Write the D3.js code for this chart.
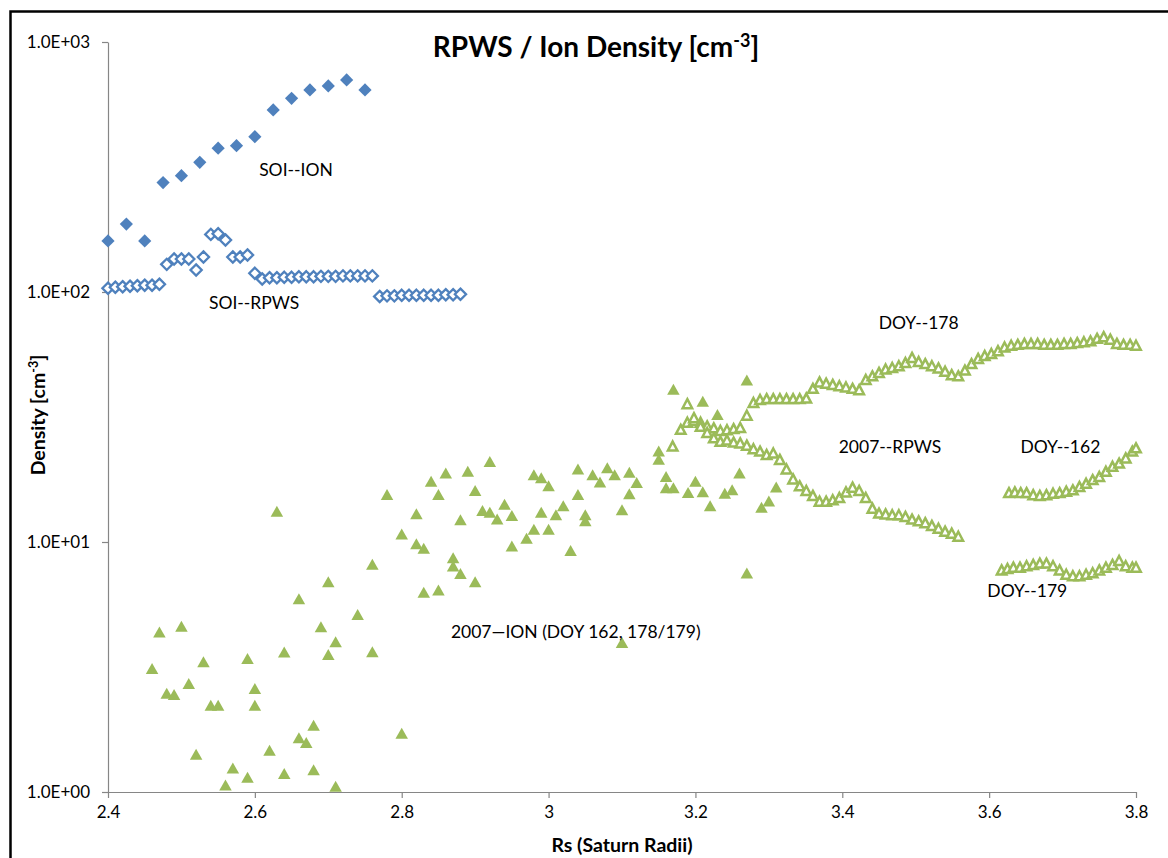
<!DOCTYPE html>
<html>
<head>
<meta charset="utf-8">
<title>RPWS / Ion Density</title>
<script src="https://cdn.jsdelivr.net/npm/d3@7"></script>
<style>
  html, body { margin: 0; padding: 0; background: #fff; }
  svg { display: block; font-family: Lato, "Open Sans", sans-serif; }
</style>
</head>
<body>
<svg id="chart" width="1168" height="858"></svg>
<script>
// Axis ticks
const xTicks = [2.4, 2.6, 2.8, 3.0, 3.2, 3.4, 3.6, 3.8];
const xTickLabels = ["2.4", "2.6", "2.8", "3", "3.2", "3.4", "3.6", "3.8"];
const yTicks = [1, 10, 100, 1000];
const yTickLabels = ["1.0E+00", "1.0E+01", "1.0E+02", "1.0E+03"];

// SOI ion density [Rs, cm^-3]
const soiIon = [
  [2.400,160],[2.425,187],[2.450,160],[2.475,274],[2.500,292],[2.525,330],
  [2.550,376],[2.575,385],[2.600,418],[2.625,535],[2.650,595],[2.675,643],
  [2.700,667],[2.725,705],[2.750,643]
];

// SOI RPWS density
const soiRpws = [
  [2.40,103.5],[2.41,104.5],[2.42,105],[2.43,105.5],[2.44,106],[2.45,106.5],
  [2.46,106.5],[2.47,107.4],[2.48,129],[2.49,135.5],[2.50,135.5],[2.51,135.5],
  [2.52,122.5],[2.53,138],[2.54,170],[2.55,171],[2.56,161.5],[2.57,138],
  [2.58,138],[2.59,140.6],[2.60,118.8],[2.61,112.7],
  [2.62,114],[2.63,114],[2.64,114.5],[2.65,114.5],[2.66,115],[2.67,115],
  [2.68,115],[2.69,115.5],[2.70,115.5],[2.71,115.5],[2.72,116],[2.73,116],
  [2.74,116],[2.75,116],[2.76,116],
  [2.77,96],[2.78,96.5],[2.79,96.5],[2.80,97],[2.81,97],[2.82,97],[2.83,97],
  [2.84,97],[2.85,97],[2.86,97.5],[2.87,97.5],[2.88,98]
];

// 2007 ion density (DOY 162, 178/179)
const ion2007 = [
  [2.46,3.10],[2.47,4.34],[2.48,2.47],[2.49,2.44],[2.50,4.58],[2.51,2.70],
  [2.52,1.41],[2.53,3.30],[2.54,2.21],[2.55,2.21],[2.56,1.06],[2.57,1.24],
  [2.59,3.40],[2.59,1.14],[2.60,2.58],[2.60,2.21],[2.62,1.46],[2.63,13.2],
  [2.64,3.61],[2.64,1.18],[2.66,5.9],[2.66,1.64],[2.67,1.57],[2.68,1.84],
  [2.68,1.22],[2.69,4.56],[2.70,6.9],[2.70,3.53],[2.71,3.97],[2.71,1.05],
  [2.74,5.1],[2.76,8.1],[2.76,3.62],[2.78,15.4],[2.80,10.7],[2.80,1.71],
  [2.82,12.9],[2.82,9.8],[2.83,9.4],[2.83,6.27],[2.84,17.4],[2.85,15.4],
  [2.85,6.39],[2.86,18.8],[2.87,8.6],[2.87,7.97],[2.88,12.2],[2.88,7.45],
  [2.89,19.1],[2.90,16.0],[2.90,6.9],[2.91,13.3],[2.92,20.9],[2.92,13.1],
  [2.93,12.3],[2.94,14.1],[2.95,12.7],[2.95,9.58],[2.97,10.3],[2.98,18.5],
  [2.98,11.2],[2.99,18.0],[2.99,13.1],[3.00,16.7],[3.00,11.2],[3.01,12.8],
  [3.02,13.9],[3.03,9.2],[3.04,19.5],[3.04,15.4],[3.05,12.8],[3.05,12.1],
  [3.06,18.5],[3.07,17.3],[3.08,19.7],[3.09,18.5],[3.10,13.4],[3.10,3.94],
  [3.11,18.9],[3.11,15.5],[3.12,17.2],[3.15,23.0],[3.15,21.3],[3.16,18.2],
  [3.16,16.4],[3.17,40.6],[3.17,16.4],[3.19,15.7],[3.20,17.4],[3.21,36.4],
  [3.21,15.8],[3.22,13.9],[3.23,32.2],[3.24,15.6],[3.25,16.1],[3.26,18.8],
  [3.27,44.2],[3.27,7.47],[3.29,13.7],[3.30,14.5],[3.31,16.5]
];

// 2007 RPWS density, DOY 178 pass
const rpws178 = [
  [3.169,24.1],[3.180,28.1],[3.189,30.0],[3.198,30.5],[3.207,30.0],[3.216,29.0],
  [3.225,28.5],[3.234,27.8],[3.243,28.0],[3.252,28.3],[3.261,28.6],[3.270,32.0],
  [3.279,36.0],[3.288,37.0],[3.297,37.3],[3.306,37.3],[3.315,37.3],[3.324,37.3],
  [3.333,37.3],[3.342,37.3],[3.351,37.5],[3.360,41.0],[3.369,43.5],[3.378,43.0],
  [3.387,42.5],[3.396,42.0],[3.405,41.5],[3.414,41.0],[3.423,40.5],[3.432,44.5],
  [3.441,46.0],[3.450,47.5],[3.459,49.0],[3.468,49.7],[3.477,50.5],[3.486,52.0],
  [3.495,54.5],[3.504,52.5],[3.513,51.5],[3.522,50.5],[3.531,49.5],[3.540,48.0],
  [3.549,46.5],[3.558,46.0],[3.567,48.5],[3.576,51.5],[3.585,54.0],[3.594,55.5],
  [3.603,56.5],[3.612,58.0],[3.621,60.0],[3.630,61.0],[3.639,61.5],[3.648,62.0],
  [3.657,62.0],[3.666,62.0],[3.675,61.5],[3.684,61.5],[3.693,61.5],[3.702,62.0],
  [3.711,62.0],[3.720,62.5],[3.729,63.0],[3.738,63.5],[3.747,65.0],[3.756,66.0],
  [3.765,64.5],[3.774,62.0],[3.783,61.5],[3.792,61.5],[3.800,61.0]
];

// 2007 RPWS density, DOY 179 inbound
const rpws179 = [
  [3.189,35.6],[3.198,31.3],[3.207,28.9],[3.216,27.3],[3.225,26.0],[3.234,25.2],
  [3.243,25.5],[3.252,25.0],[3.261,24.8],[3.270,24.3],[3.279,23.5],[3.288,23.0],
  [3.297,22.3],[3.306,22.6],[3.315,21.3],[3.324,19.5],[3.333,17.8],[3.342,16.7],
  [3.351,16.0],[3.360,15.3],[3.369,14.5],[3.378,14.5],[3.387,14.7],[3.396,15.0],
  [3.405,15.8],[3.414,16.5],[3.423,16.0],[3.432,15.0],[3.441,13.6],[3.450,13.0],
  [3.459,12.9],[3.468,12.8],[3.477,12.8],[3.486,12.6],[3.495,12.3],[3.504,12.1],
  [3.513,11.9],[3.522,11.6],[3.531,11.3],[3.540,11.0],[3.549,10.8],[3.558,10.5]
];

// 2007 RPWS density, DOY 162
const rpws162 = [
  [3.627,15.7],[3.635,15.8],[3.643,15.7],[3.651,15.7],[3.660,15.4],[3.669,15.3],
  [3.678,15.4],[3.687,15.6],[3.696,15.7],[3.705,15.9],[3.714,16.1],[3.723,16.6],
  [3.732,17.1],[3.741,17.7],[3.750,18.2],[3.759,19.1],[3.768,20.0],[3.777,20.6],
  [3.786,21.6],[3.795,23.0],[3.800,23.7]
];

// 2007 RPWS density, DOY 179 outer segment
const rpws179Outer = [
  [3.617,7.7],[3.625,7.8],[3.633,7.9],[3.642,7.9],[3.651,8.0],[3.660,8.1],
  [3.669,8.2],[3.678,8.2],[3.687,8.0],[3.696,7.7],[3.705,7.4],[3.714,7.3],
  [3.723,7.3],[3.732,7.4],[3.741,7.5],[3.750,7.7],[3.759,7.9],[3.768,8.1],
  [3.777,8.4],[3.786,8.0],[3.795,7.9],[3.800,7.9]
];

// Series annotations
const annotations = [
  { text: "SOI--ION", x: 2.656, y: 309 },
  { text: "SOI--RPWS", x: 2.599, y: 90.4 },
  { text: "DOY--178", x: 3.504, y: 75.2 },
  { text: "2007--RPWS", x: 3.465, y: 24.0 },
  { text: "DOY--162", x: 3.697, y: 24.0 },
  { text: "DOY--179", x: 3.652, y: 6.37 },
  { text: "2007\u2014ION (DOY 162, 178/179)", x: 3.037, y: 4.37 }
];

const BLUE = "#4F81BD";
const GREEN = "#9BBB59";
const AXIS = "#868686";

const svg = d3.select("#chart");

// Outer frame of the chart object
svg.append("rect")
  .attr("x", 10.5).attr("y", 11.5)
  .attr("width", 1200).attr("height", 900)
  .attr("fill", "#fff")
  .attr("stroke", "#000")
  .attr("stroke-width", 2.5);

const x = d3.scaleLinear().domain([2.4, 3.8]).range([108, 1136]);
const y = d3.scaleLog().domain([1, 1000]).range([792, 42]);

// Axes
const yAxis = d3.axisLeft(y)
  .tickValues(yTicks)
  .tickFormat((d, i) => yTickLabels[i])
  .tickSize(6).tickSizeOuter(0).tickPadding(12);
const xAxis = d3.axisBottom(x)
  .tickValues(xTicks)
  .tickFormat((d, i) => xTickLabels[i])
  .tickSize(6).tickSizeOuter(0).tickPadding(8);

const gy = svg.append("g").attr("transform", "translate(108,0)").call(yAxis);
const gx = svg.append("g").attr("transform", "translate(0,792)").call(xAxis);
[gx, gy].forEach(g => {
  g.select(".domain").attr("stroke", AXIS).attr("stroke-width", 1.2);
  g.selectAll(".tick line").attr("stroke", AXIS).attr("stroke-width", 1.2);
  g.selectAll(".tick text")
    .attr("fill", "#000")
    .style("font-family", "Lato, sans-serif")
    .style("font-size", "17px");
});

// Marker shapes
const diamond = r => `M0,${-r}L${r},0L0,${r}L${-r},0Z`;
const triangle = (w, h) => `M0,${-h * 0.55}L${w / 2},${h * 0.45}L${-w / 2},${h * 0.45}Z`;

function plot(data, path, fill, stroke, sw) {
  svg.append("g")
    .selectAll("path")
    .data(data)
    .join("path")
    .attr("d", path)
    .attr("transform", d => `translate(${x(d[0])},${y(d[1])})`)
    .attr("fill", fill)
    .attr("stroke", stroke)
    .attr("stroke-width", sw)
    .attr("stroke-linejoin", "miter");
}

plot(ion2007, triangle(12.5, 11), GREEN, "none", 0);
plot(rpws178, triangle(9.5, 9), "#fff", GREEN, 2.5);
plot(rpws179, triangle(9.5, 9), "#fff", GREEN, 2.5);
plot(rpws162, triangle(9.5, 9), "#fff", GREEN, 2.5);
plot(rpws179Outer, triangle(9.5, 9), "#fff", GREEN, 2.5);
plot(soiRpws, diamond(5.6), "#fff", BLUE, 2.3);
plot(soiIon, diamond(6.6), BLUE, "none", 0);

// Series labels
svg.append("g")
  .selectAll("text")
  .data(annotations)
  .join("text")
  .attr("x", d => x(d.x))
  .attr("y", d => y(d.y))
  .attr("text-anchor", "middle")
  .attr("dominant-baseline", "central")
  .attr("fill", "#000")
  .style("font-size", "17.5px")
  .text(d => d.text);

// Title
const title = svg.append("text")
  .attr("x", 596).attr("y", 57)
  .attr("text-anchor", "middle")
  .style("font-size", "28px")
  .style("font-weight", "bold");
title.append("tspan").text("RPWS / Ion Density [cm");
title.append("tspan").attr("dy", -10).style("font-size", "18px").text("-3");
title.append("tspan").attr("dy", 10).text("]");

// Axis titles
svg.append("text")
  .attr("x", 622).attr("y", 852)
  .attr("text-anchor", "middle")
  .style("font-size", "19.5px")
  .style("font-weight", "bold")
  .text("Rs (Saturn Radii)");

const yt = svg.append("text")
  .attr("transform", "translate(45,415) rotate(-90)")
  .attr("text-anchor", "middle")
  .style("font-size", "19.5px")
  .style("font-weight", "bold");
yt.append("tspan").text("Density [cm");
yt.append("tspan").attr("dy", -7).style("font-size", "12.5px").text("-3");
yt.append("tspan").attr("dy", 7).text("]");
</script>
</body>
</html>
